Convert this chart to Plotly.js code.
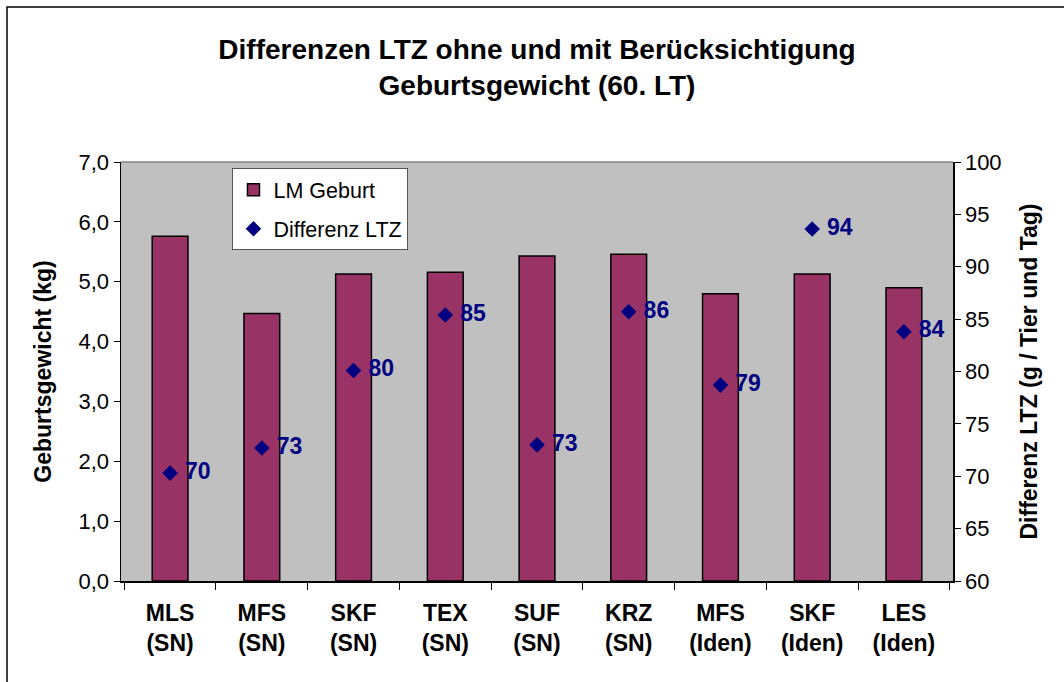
<!DOCTYPE html>
<html>
<head>
<meta charset="utf-8">
<script src="https://cdn.plot.ly/plotly-3.0.1.min.js"></script>
<style>
  html, body { margin: 0; padding: 0; background: #ffffff; }
  #chart { width: 1064px; height: 682px; }
</style>
</head>
<body>
<div id="chart"></div>
<script>
// ---- data ----
const categories = [
  "MLS<br>(SN)", "MFS<br>(SN)", "SKF<br>(SN)", "TEX<br>(SN)", "SUF<br>(SN)",
  "KRZ<br>(SN)", "MFS<br>(Iden)", "SKF<br>(Iden)", "LES<br>(Iden)"
];
const lmGeburt = [5.76, 4.47, 5.13, 5.16, 5.43, 5.46, 4.80, 5.13, 4.90];
const differenzLTZ = [70.3, 72.7, 80.1, 85.4, 73.0, 85.7, 78.7, 93.6, 83.8];
const seriesNames = ["LM Geburt", "Differenz LTZ"];
const chartTitle = "Differenzen LTZ ohne und mit Berücksichtigung<br>Geburtsgewicht (60. LT)";
const yTitle = "Geburtsgewicht (kg)";
const y2Title = "Differenz LTZ (g / Tier und Tag)";

const FONT = "Liberation Sans, Arial, sans-serif";

const traces = [
  {
    type: "bar",
    name: seriesNames[0],
    legendgroup: "g1",
    x: categories,
    y: lmGeburt,
    width: 0.39,
    marker: { color: "#993366", line: { color: "#000000", width: 1.5 } },
    yaxis: "y",
    hoverinfo: "x+y"
  },
  {
    type: "scatter",
    mode: "markers+text",
    name: seriesNames[1],
    legendgroup: "g2",
    x: categories,
    y: differenzLTZ,
    yaxis: "y2",
    marker: { symbol: "diamond", color: "#000080", size: 12 },
    texttemplate: " %{y:.0f}",
    textposition: "middle right",
    textfont: { family: FONT, size: 23, color: "#000080", weight: "bold" },
    cliponaxis: false
  }
];

const layout = {
  width: 1064,
  height: 682,
  separators: ",.",
  paper_bgcolor: "#ffffff",
  plot_bgcolor: "#C0C0C0",
  font: { family: FONT, size: 22, color: "#000000" },
  margin: { l: 121, r: 111, t: 162, b: 101, pad: 0 },
  title: {
    text: chartTitle,
    font: { family: FONT, size: 28, color: "#000000", weight: "bold" },
    x: 0.5, xref: "paper",
    y: 0.914, yref: "container", yanchor: "middle"
  },
  showlegend: true,
  legend: {
    x: 0.134, y: 0.985, xanchor: "left", yanchor: "top",
    bgcolor: "#ffffff", bordercolor: "#555555", borderwidth: 1,
    font: { family: FONT, size: 21.5, color: "#000000" },
    tracegroupgap: 8
  },
  xaxis: {
    type: "category",
    tickson: "boundaries",
    ticks: "outside",
    ticklen: 7,
    tickcolor: "#000000",
    showline: true, linecolor: "#000000", linewidth: 1.5,
    tickfont: { family: FONT, size: 23, color: "#000000", weight: "bold" },
    ticklabelstandoff: 11,
    fixedrange: true,
    automargin: false
  },
  yaxis: {
    range: [0, 7],
    dtick: 1,
    tick0: 0,
    tickformat: ".1f",
    ticks: "outside",
    ticklen: 6,
    tickcolor: "#000000",
    showgrid: false,
    zeroline: false,
    showline: true, linecolor: "#000000", linewidth: 1.5,
    tickfont: { family: FONT, size: 22, color: "#000000" },
    title: { text: yTitle, font: { family: FONT, size: 23, weight: "bold" }, standoff: 20 },
    automargin: false
  },
  yaxis2: {
    overlaying: "y",
    side: "right",
    range: [60, 100],
    dtick: 5,
    tick0: 60,
    ticks: "outside",
    ticklen: 6,
    tickcolor: "#000000",
    showgrid: false,
    zeroline: false,
    showline: true, linecolor: "#000000", linewidth: 1.5,
    tickfont: { family: FONT, size: 22, color: "#000000" },
    title: { text: y2Title, font: { family: FONT, size: 23, weight: "bold" }, standoff: 20 },
    automargin: false
  },
  shapes: [
    { type: "line", xref: "paper", yref: "paper", x0: 0, x1: 1, y0: 1, y1: 1,
      line: { color: "#808080", width: 1.5 } },
    { type: "rect", xref: "paper", yref: "paper",
      x0: (7 - 121) / 832, x1: (1075 - 121) / 832,
      y0: (581 - 700) / 419, y1: (581 - 7) / 419,
      line: { color: "#000000", width: 1.5 }, fillcolor: "rgba(0,0,0,0)", layer: "below" }
  ]
};

Plotly.newPlot("chart", traces, layout, { displayModeBar: false, staticPlot: true });
</script>
</body>
</html>
